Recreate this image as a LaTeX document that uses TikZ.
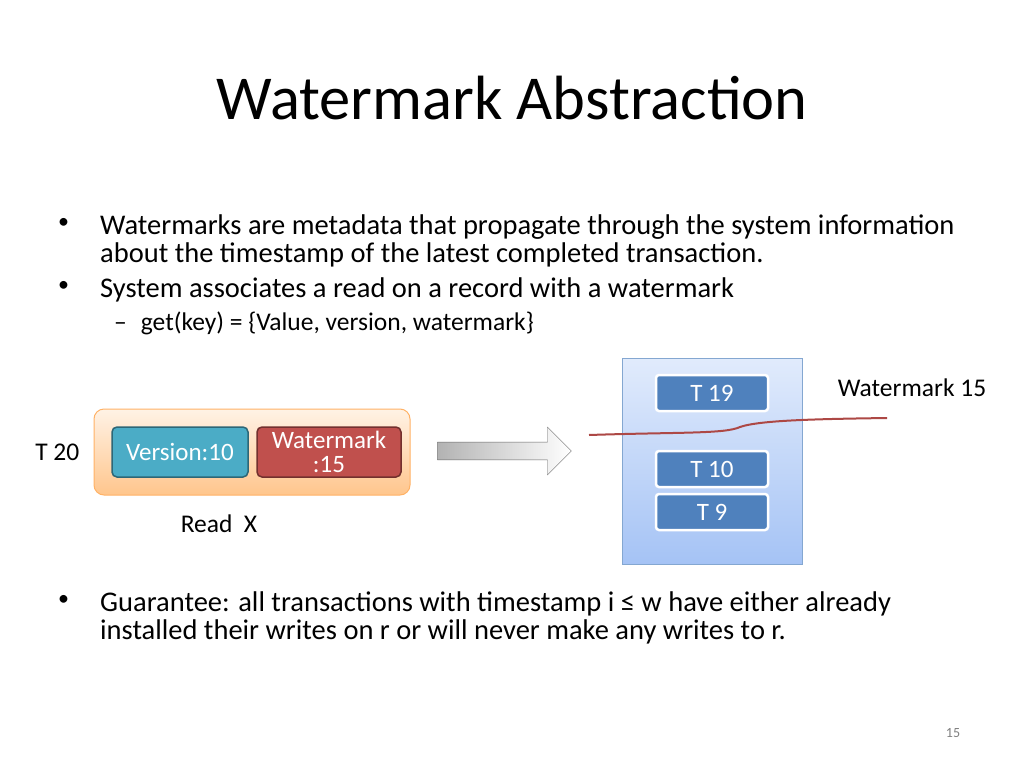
\documentclass[tikz,border=0pt]{standalone}
\usepackage{fontspec}
\setmainfont{Carlito}
\usetikzlibrary{positioning,shapes.arrows}
\definecolor{tealbox}{RGB}{75,172,198}
\definecolor{redbox}{RGB}{192,80,77}
\definecolor{tbox}{RGB}{79,129,189}
\definecolor{storetop}{RGB}{225,235,252}
\definecolor{storebot}{RGB}{165,195,245}
\tikzset{
  body/.style={anchor=north west,align=left,font=\fontsize{28.5}{28}\selectfont,inner sep=0pt},
  dot/.style={anchor=north west,font=\fontsize{22}{28}\selectfont,inner sep=0pt},
  label/.style={font=\fontsize{25.5}{24}\selectfont,inner sep=0pt},
  fieldbox/.style={draw,line width=1.5pt,rounded corners=5pt,minimum height=50pt,text=white,font=\fontsize{25}{24}\selectfont,align=center},
  tnode/.style={draw=white,line width=2.5pt,fill=tbox,rounded corners=3pt,minimum width=112pt,minimum height=36pt,text=white,font=\fontsize{25}{24}\selectfont}
}
\begin{document}
\begin{tikzpicture}[x=1pt,y=-1pt]
    \useasboundingbox[fill=white] (0,0) rectangle (1024,768);

    \node[font=\fontsize{62.5}{64}\selectfont] (title) at (512,98) {Watermark Abstraction};

    \node[dot] (b1dot) at (58,218) {•};
    \node[body] (b1) at (100,215) {Watermarks are metadata that propagate through the system information\\about the timestamp of the latest completed transaction.};
    \node[dot] (b2dot) at (58,281) {•};
    \node[body] (b2) at (100,278) {System associates a read on a record with a watermark};
    \node[body,font=\fontsize{25.5}{24}\selectfont] (s1) at (114,312) {–\hspace{14pt}get(key) = \{Value, version, watermark\}};

    % record read
    \node[draw=orange!60,line width=1pt,rounded corners=10pt,top color=orange!10,bottom color=orange!45,
          minimum width=316pt,minimum height=86pt] (rec) at (252,452) {};
    \node[fieldbox,fill=tealbox,draw=tealbox!60!black,minimum width=136pt] (ver) at (180,452) {Version:10};
    \node[fieldbox,fill=redbox,draw=redbox!60!black,minimum width=144pt] (wm) at (329,452) {Watermark\\:15};
    \node[label,left=14pt of rec] (t20) {T 20};
    \node[label] (readx) at (219,524) {Read\ \ X};

    % arrow
    \node[single arrow,draw=gray!80!black,left color=gray!60,right color=white,
          minimum height=134pt,minimum width=48pt,single arrow head extend=6pt] (arr) at (500,451) {};

    % version list
    \node[draw=tbox!70,line width=1pt,top color=storetop,bottom color=storebot,
          minimum width=180pt,minimum height=206pt] (store) at (712,461) {};
    \node[tnode] (t19) at (712,393) {T 19};
    \node[tnode] (t10) at (712,469) {T 10};
    \node[tnode] (t9) at (712,512) {T 9};
    \node[label] (wmlabel) at (912,388) {Watermark 15};
    \draw[redbox!90!black,line width=2pt] (589,435) .. controls (680,432) and (725,434) .. (740,427)
        .. controls (760,420) and (820,419) .. (887,418);

    \node[dot] (b3dot) at (58,595) {•};
    \node[body] (b3) at (100,592) {Guarantee: all transactions with timestamp i ≤ w have either already\\installed their writes on r or will never make any writes to r.};

    \node[font=\fontsize{14}{16}\selectfont,text=gray] (page) at (953,733) {15};
\end{tikzpicture}
\end{document}
